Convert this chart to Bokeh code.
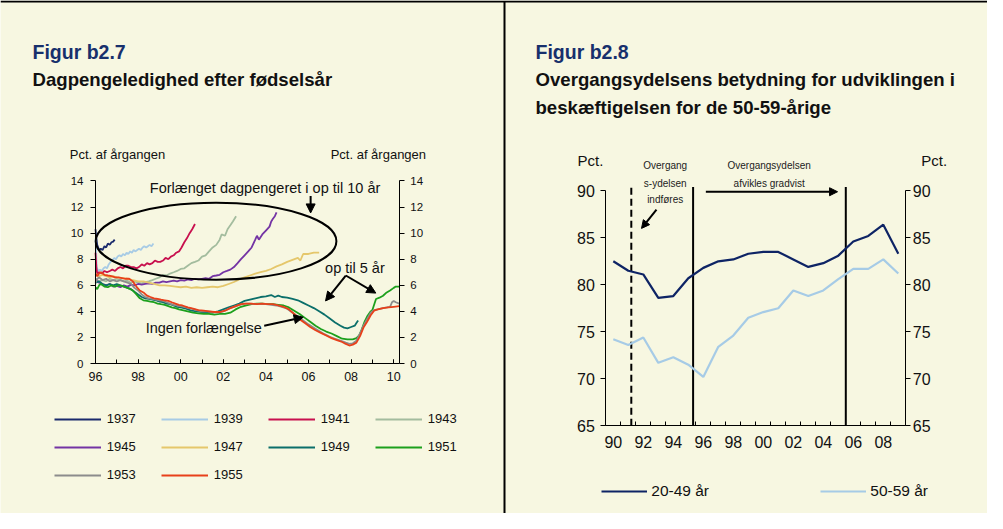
from bokeh.plotting import figure
from bokeh.models import (Range1d, LinearAxis, FixedTicker, Label, Arrow, NormalHead,
                          Legend, LegendItem)
from bokeh.embed import file_html
from bokeh.resources import INLINE

BG = "#F7F7E1"
FONT = "Liberation Sans"
NAVY = "#17306C"
TXT = "#111111"
W, H = 987, 513

# ---------------- Figure b2.7 data (cohort unemployment, pct of cohort) ----------------
cohorts = ["1937", "1939", "1941", "1943", "1945", "1947", "1949", "1951", "1953", "1955"]
cohort_colors = ["#1A2A6C", "#A7CBE5", "#C8104E", "#A3BC9E", "#7434A4",
                 "#E5C76B", "#0B6F6A", "#1CA01C", "#8C8C8C", "#E8401A"]

s1937 = [(1996.00, 10.3), (1996.03, 9.8), (1996.08, 9.1), (1996.17, 8.7), (1996.25, 8.8),
         (1996.33, 8.7), (1996.42, 9.0), (1996.50, 8.9), (1996.58, 9.2), (1996.67, 9.1),
         (1996.75, 9.3), (1996.83, 9.35), (1996.90, 9.5)]
s1939 = [(1996.00, 9.6), (1996.06, 7.4), (1996.12, 7.1), (1996.21, 7.2), (1996.29, 7.1),
         (1996.38, 7.3), (1996.46, 7.4), (1996.54, 7.3), (1996.62, 7.6), (1996.71, 7.8),
         (1996.79, 7.9), (1996.88, 8.1), (1996.96, 8.0), (1997.04, 8.2), (1997.13, 8.3),
         (1997.21, 8.2), (1997.29, 8.4), (1997.38, 8.3), (1997.46, 8.5), (1997.54, 8.4),
         (1997.63, 8.6), (1997.71, 8.5), (1997.79, 8.7), (1997.88, 8.6), (1997.96, 8.7),
         (1998.04, 8.8), (1998.13, 8.7), (1998.21, 8.9), (1998.29, 9.0), (1998.38, 8.9),
         (1998.46, 9.0), (1998.54, 9.1), (1998.63, 9.0), (1998.72, 9.2)]
s1941 = [(1996.00, 8.5), (1996.04, 7.4), (1996.08, 6.9), (1996.17, 7.0), (1996.29, 6.9),
         (1996.42, 7.1), (1996.54, 7.0), (1996.67, 7.1), (1996.79, 7.2), (1996.92, 7.1),
         (1997.04, 7.3), (1997.17, 7.4), (1997.29, 7.3), (1997.42, 7.5), (1997.54, 7.5),
         (1997.67, 7.4), (1997.79, 7.4), (1997.92, 7.3), (1998.04, 7.4), (1998.17, 7.6),
         (1998.29, 7.5), (1998.42, 7.7), (1998.54, 7.6), (1998.67, 7.7), (1998.79, 7.9),
         (1998.92, 7.8), (1999.04, 7.8), (1999.17, 7.9), (1999.29, 8.1), (1999.42, 8.0),
         (1999.54, 8.2), (1999.67, 8.3), (1999.79, 8.5), (1999.92, 8.6), (2000.04, 8.9),
         (2000.17, 9.3), (2000.29, 9.6), (2000.42, 10.0), (2000.54, 10.3), (2000.67, 10.7)]
s1943 = [(1996.00, 6.5), (1996.17, 6.3), (1996.33, 6.4), (1996.50, 6.3), (1996.67, 6.5),
         (1996.83, 6.4), (1997.00, 6.5), (1997.17, 6.4), (1997.33, 6.3), (1997.50, 6.35),
         (1997.67, 6.2), (1997.83, 6.3), (1998.00, 6.2), (1998.17, 6.15), (1998.33, 6.25),
         (1998.50, 6.3), (1998.67, 6.4), (1998.83, 6.5), (1999.00, 6.6), (1999.17, 6.8),
         (1999.33, 6.75), (1999.50, 6.9), (1999.67, 7.0), (1999.83, 7.1), (2000.00, 7.25),
         (2000.17, 7.3), (2000.33, 7.5), (2000.50, 7.7), (2000.67, 7.8), (2000.83, 7.9),
         (2001.00, 8.2), (2001.17, 8.3), (2001.33, 8.6), (2001.50, 8.9), (2001.67, 9.1),
         (2001.83, 9.5), (2001.92, 9.9), (2002.08, 9.8), (2002.20, 10.3), (2002.33, 10.6),
         (2002.45, 10.9), (2002.60, 11.3)]
s1945 = [(1996.00, 6.4), (1996.17, 6.2), (1996.33, 6.1), (1996.50, 6.0), (1996.67, 6.1),
         (1996.83, 5.9), (1997.00, 5.95), (1997.17, 5.85), (1997.33, 6.0), (1997.50, 5.9),
         (1997.67, 6.05), (1997.83, 6.0), (1998.00, 6.1), (1998.17, 6.05), (1998.33, 6.1),
         (1998.50, 6.15), (1998.67, 6.1), (1998.83, 6.2), (1999.00, 6.2), (1999.17, 6.3),
         (1999.33, 6.25), (1999.50, 6.3), (1999.67, 6.35), (1999.83, 6.3), (2000.00, 6.4),
         (2000.17, 6.35), (2000.33, 6.45), (2000.50, 6.4), (2000.67, 6.5), (2000.83, 6.45),
         (2001.00, 6.5), (2001.17, 6.55), (2001.33, 6.5), (2001.50, 6.7), (2001.67, 6.75),
         (2001.83, 6.8), (2002.00, 7.0), (2002.17, 7.1), (2002.33, 7.2), (2002.50, 7.4),
         (2002.67, 7.7), (2002.83, 8.0), (2003.00, 8.3), (2003.17, 8.6), (2003.33, 8.9),
         (2003.50, 9.5), (2003.58, 9.8), (2003.67, 9.5), (2003.83, 9.9), (2004.00, 10.2),
         (2004.17, 10.5), (2004.25, 10.9), (2004.33, 11.1), (2004.42, 11.3), (2004.50, 11.6)]
s1947 = [(1996.00, 6.9), (1996.17, 6.7), (1996.33, 6.8), (1996.50, 6.7), (1996.67, 6.6),
         (1996.83, 6.7), (1997.00, 6.6), (1997.25, 6.55), (1997.50, 6.5), (1997.75, 6.4),
         (1998.00, 6.3), (1998.25, 6.3), (1998.50, 6.2), (1998.75, 6.1), (1999.00, 6.0),
         (1999.25, 6.0), (1999.50, 5.95), (1999.75, 5.9), (2000.00, 5.85), (2000.25, 5.9),
         (2000.50, 5.8), (2000.75, 5.85), (2001.00, 5.8), (2001.25, 5.85), (2001.50, 5.9),
         (2001.75, 5.85), (2002.00, 5.95), (2002.25, 6.1), (2002.50, 6.25), (2002.75, 6.45),
         (2003.00, 6.6), (2003.25, 6.75), (2003.50, 6.9), (2003.75, 7.0), (2004.00, 7.1),
         (2004.25, 7.25), (2004.50, 7.45), (2004.75, 7.6), (2005.00, 7.8), (2005.25, 7.95),
         (2005.50, 8.1), (2005.62, 7.9), (2005.75, 8.4), (2006.00, 8.4), (2006.25, 8.5),
         (2006.50, 8.5)]
s1949 = [(1996.00, 6.2), (1996.17, 6.3), (1996.33, 6.1), (1996.50, 6.0), (1996.67, 6.1),
         (1996.83, 6.0), (1997.00, 6.1), (1997.17, 6.0), (1997.33, 5.9), (1997.50, 5.8),
         (1997.67, 5.7), (1997.83, 5.5), (1998.00, 5.3), (1998.17, 5.1), (1998.33, 5.0),
         (1998.50, 4.95), (1998.67, 4.9), (1998.83, 4.85), (1999.00, 4.75), (1999.17, 4.7),
         (1999.33, 4.6), (1999.50, 4.55), (1999.67, 4.45), (1999.83, 4.35), (2000.00, 4.3),
         (2000.25, 4.2), (2000.50, 4.05), (2000.75, 4.0), (2001.00, 3.95), (2001.25, 3.95),
         (2001.50, 3.9), (2001.75, 4.0), (2002.00, 4.15), (2002.25, 4.3), (2002.50, 4.45),
         (2002.75, 4.6), (2003.00, 4.8), (2003.25, 4.9), (2003.50, 5.0), (2003.75, 5.1),
         (2004.00, 5.15), (2004.25, 5.25), (2004.42, 5.1), (2004.58, 5.2), (2004.75, 5.1),
         (2005.00, 5.05), (2005.25, 4.95), (2005.50, 4.85), (2005.75, 4.65), (2006.00, 4.45),
         (2006.25, 4.25), (2006.50, 4.0), (2006.75, 3.75), (2007.00, 3.45), (2007.25, 3.15),
         (2007.50, 2.9), (2007.67, 2.75), (2007.83, 2.7), (2008.00, 2.8), (2008.17, 2.9),
         (2008.25, 3.1), (2008.33, 3.3)]
s1951 = [(1996.00, 5.85), (1996.08, 5.7), (1996.17, 6.0), (1996.25, 6.1), (1996.42, 5.9),
         (1996.58, 5.85), (1996.75, 6.0), (1996.92, 5.9), (1997.08, 6.0), (1997.25, 5.95),
         (1997.42, 5.85), (1997.58, 5.75), (1997.75, 5.6), (1997.92, 5.3), (1998.08, 5.0),
         (1998.25, 4.85), (1998.42, 4.8), (1998.58, 4.75), (1998.75, 4.7), (1998.92, 4.6),
         (1999.08, 4.55), (1999.25, 4.5), (1999.42, 4.4), (1999.58, 4.3), (1999.75, 4.25),
         (1999.92, 4.15), (2000.08, 4.1), (2000.33, 4.0), (2000.58, 3.9), (2000.83, 3.85),
         (2001.08, 3.8), (2001.33, 3.8), (2001.58, 3.75), (2001.83, 3.8), (2002.08, 3.8),
         (2002.33, 3.9), (2002.58, 4.15), (2002.83, 4.35), (2003.08, 4.45), (2003.33, 4.55),
         (2003.58, 4.6), (2003.83, 4.6), (2004.08, 4.55), (2004.33, 4.55), (2004.58, 4.5),
         (2004.83, 4.45), (2005.08, 4.3), (2005.33, 4.05), (2005.58, 3.8), (2005.83, 3.5),
         (2006.08, 3.2), (2006.33, 2.9), (2006.58, 2.65), (2006.83, 2.45), (2007.08, 2.3),
         (2007.33, 2.1), (2007.58, 1.9), (2007.83, 1.85), (2008.08, 1.85), (2008.25, 1.95),
         (2008.38, 2.15), (2008.50, 2.6), (2008.63, 3.2), (2008.75, 3.6), (2008.92, 4.0),
         (2009.00, 4.1), (2009.10, 4.6), (2009.17, 4.95), (2009.33, 5.05), (2009.50, 5.2),
         (2009.67, 5.45), (2009.83, 5.6), (2010.00, 5.8), (2010.10, 5.9), (2010.26, 5.9)]
s1953 = [(1996.00, 6.2), (1996.08, 6.5), (1996.17, 6.6), (1996.33, 6.4), (1996.50, 6.5),
         (1996.67, 6.3), (1996.83, 6.4), (1997.00, 6.3), (1997.17, 6.4), (1997.33, 6.3),
         (1997.50, 6.2), (1997.67, 6.1), (1997.83, 5.8), (1998.00, 5.6), (1998.17, 5.3),
         (1998.33, 5.1), (1998.50, 5.0), (1998.67, 4.95), (1998.83, 4.9), (1999.00, 4.85),
         (1999.17, 4.8), (1999.33, 4.7), (1999.50, 4.6), (1999.67, 4.5), (1999.83, 4.45),
         (2000.00, 4.4), (2000.25, 4.3), (2000.50, 4.2), (2000.75, 4.1), (2001.00, 4.0),
         (2001.25, 4.0), (2001.50, 3.95), (2001.75, 3.9), (2002.00, 4.0), (2002.25, 4.2),
         (2002.50, 4.35), (2002.75, 4.5), (2003.00, 4.6), (2003.25, 4.6), (2003.50, 4.55),
         (2003.75, 4.6), (2004.00, 4.55), (2004.25, 4.5), (2004.50, 4.45), (2004.75, 4.35),
         (2005.00, 4.2), (2005.25, 3.9), (2005.50, 3.6), (2005.75, 3.3), (2006.00, 3.0),
         (2006.25, 2.75), (2006.50, 2.5), (2006.75, 2.25), (2007.00, 2.05), (2007.25, 1.9),
         (2007.50, 1.75), (2007.75, 1.6), (2007.92, 1.5), (2008.08, 1.55), (2008.25, 1.75),
         (2008.42, 2.3), (2008.58, 2.9), (2008.75, 3.4), (2008.92, 3.9), (2009.08, 4.1),
         (2009.25, 4.15), (2009.50, 4.25), (2009.67, 4.3), (2009.83, 4.35), (2009.92, 4.7),
         (2010.00, 4.8), (2010.10, 4.7), (2010.26, 4.6)]
s1955 = [(1996.00, 6.9), (1996.08, 6.7), (1996.17, 6.9), (1996.25, 7.0), (1996.42, 6.8),
         (1996.58, 6.75), (1996.75, 6.7), (1996.92, 6.6), (1997.08, 6.6), (1997.25, 6.55),
         (1997.42, 6.5), (1997.58, 6.5), (1997.75, 6.3), (1997.92, 5.9), (1998.08, 5.6),
         (1998.25, 5.45), (1998.42, 5.2), (1998.58, 5.1), (1998.75, 5.0), (1998.92, 4.95),
         (1999.08, 4.9), (1999.25, 4.85), (1999.42, 4.8), (1999.58, 4.7), (1999.75, 4.6),
         (1999.92, 4.5), (2000.08, 4.45), (2000.33, 4.3), (2000.58, 4.2), (2000.83, 4.1),
         (2001.08, 4.05), (2001.33, 4.0), (2001.58, 3.95), (2001.83, 3.95), (2002.08, 4.05),
         (2002.33, 4.25), (2002.58, 4.4), (2002.83, 4.55), (2003.08, 4.6), (2003.33, 4.6),
         (2003.58, 4.55), (2003.83, 4.6), (2004.08, 4.55), (2004.33, 4.55), (2004.58, 4.45),
         (2004.83, 4.35), (2005.08, 4.15), (2005.33, 3.8), (2005.58, 3.4), (2005.83, 3.1),
         (2006.08, 2.8), (2006.33, 2.55), (2006.58, 2.35), (2006.83, 2.15), (2007.08, 1.95),
         (2007.33, 1.8), (2007.58, 1.65), (2007.75, 1.5), (2007.92, 1.38), (2008.08, 1.45),
         (2008.25, 1.6), (2008.42, 2.1), (2008.58, 2.75), (2008.75, 3.2), (2008.92, 3.7),
         (2009.08, 4.05), (2009.25, 4.15), (2009.50, 4.25), (2009.75, 4.3), (2010.00, 4.35),
         (2010.26, 4.4)]
cohort_series = [s1937, s1939, s1941, s1943, s1945, s1947, s1949, s1951, s1953, s1955]

left_x_ticks = [1996, 1998, 2000, 2002, 2004, 2006, 2008, 2010]
left_x_labels = ["96", "98", "00", "02", "04", "06", "08", "10"]
left_y_ticks = [0, 2, 4, 6, 8, 10, 12, 14]

# ---------------- Figure b2.8 data (employment rate, pct) ----------------
years = [1990, 1991, 1992, 1993, 1994, 1995, 1996, 1997, 1998, 1999,
         2000, 2001, 2002, 2003, 2004, 2005, 2006, 2007, 2008, 2009]
emp_2049 = [82.5, 81.5, 81.1, 78.6, 78.8, 80.7, 81.8, 82.5, 82.7, 83.3,
            83.5, 83.5, 82.7, 81.9, 82.3, 83.1, 84.6, 85.2, 86.4, 83.3]
emp_5059 = [74.2, 73.6, 74.4, 71.7, 72.3, 71.5, 70.2, 73.4, 74.6, 76.5,
            77.1, 77.5, 79.4, 78.8, 79.4, 80.6, 81.7, 81.7, 82.7, 81.2]
right_x_ticks = [1990, 1992, 1994, 1996, 1998, 2000, 2002, 2004, 2006, 2008]
right_x_labels = ["90", "92", "94", "96", "98", "00", "02", "04", "06", "08"]
right_y_ticks = [65, 70, 75, 80, 85, 90]
event_dashed = [1991.2]
event_solid = [1995.32, 2005.5]


# ---- ranges: anchor a value at a canvas pixel with a given pixel scale ----
def xrange_at(v, px, ppu):
    return Range1d(v - px / ppu, v + (W - px) / ppu)


def yrange_at(v, py, ppu):  # py measured from top of canvas
    return Range1d(v - (H - py) / ppu, v + py / ppu)


LX0, LX1 = 1996, 2010.26
RX0, RX1 = 1989.5, 2009.5

p = figure(width=W, height=H, min_border=0, x_range=Range1d(0, W), y_range=Range1d(0, H),
           x_axis_location=None, y_axis_location=None,
           output_backend="svg", toolbar_location=None,
           background_fill_color=BG, border_fill_color=BG, outline_line_color=None)
p.grid.visible = False
p.extra_x_ranges = {"xl": xrange_at(1996, 95, 21.3), "xr": xrange_at(1990, 612.8, 15.0)}
p.extra_y_ranges = {"yl": yrange_at(0, 363, 13.036), "yr": yrange_at(65, 425.3, 9.4)}

# frame lines (top rule and divider), in canvas pixel coordinates
p.segment(x0=[0, 504], y0=[H - 1, H - 1], x1=[W, 504], y1=[H - 1, 0], line_color="black", line_width=2)


def style_axis(ax, size):
    ax.axis_line_color = "black"
    ax.axis_line_width = 1
    ax.major_tick_line_color = "black"
    ax.minor_tick_line_color = "black"
    ax.major_label_text_font = FONT
    ax.major_label_text_font_size = size
    ax.major_label_text_color = TXT


def add_axes(xr, yr, x0, x1, y0, y1, yticks, xticks, xlabels, xminor, ysize, xsize,
             lstand, rstand, xstand, xmajor_in):
    for side, loc, stand in (("left", x0, lstand), ("right", x1, rstand)):
        ax = LinearAxis(x_range_name=xr, y_range_name=yr, fixed_location=loc, bounds=(y0, y1),
                        ticker=FixedTicker(ticks=yticks, minor_ticks=[]))
        style_axis(ax, ysize)
        ax.major_tick_out = 5
        ax.major_tick_in = 0
        ax.major_label_standoff = stand
        p.add_layout(ax, side)
    ax = LinearAxis(x_range_name=xr, y_range_name=yr, fixed_location=y0, bounds=(x0, x1),
                    ticker=FixedTicker(ticks=xticks, minor_ticks=xminor))
    ax.major_label_overrides = {t: l for t, l in zip(xticks, xlabels)}
    style_axis(ax, xsize)
    ax.major_tick_in = xmajor_in
    ax.major_tick_out = 0
    ax.minor_tick_in = 4
    ax.minor_tick_out = 0
    ax.major_label_standoff = xstand
    p.add_layout(ax, "below")


add_axes("xl", "yl", LX0, LX1, 0, 14, left_y_ticks, left_x_ticks, left_x_labels,
         list(range(1996, 2011)), "11.5px", "12.5px", 7, 6, 8, 4)
add_axes("xr", "yr", RX0, RX1, 65, 90, right_y_ticks, right_x_ticks, right_x_labels,
         [1989.5 + i for i in range(21)], "16px", "16px", 6, 2, 10, 0)

# ================= Figure b2.7 =================
L = dict(x_range_name="xl", y_range_name="yl")
items = []
for name, col, s in zip(cohorts, cohort_colors, cohort_series):
    xs = [a for a, b in s]
    ys = [b for a, b in s]
    r = p.line(xs, ys, line_color=col, line_width=1.8, **L)
    items.append(LegendItem(label=name, renderers=[r]))

p.ellipse(x=[2001.66], y=[9.38], width=11.3, height=5.9,
          fill_color=None, line_color="black", line_width=2, **L)


def arrow(x0, y0, x1, y1, size, **rn):
    p.add_layout(Arrow(end=NormalHead(size=size, fill_color="black", line_color="black"),
                       x_start=x0, y_start=y0, x_end=x1, y_end=y1, line_width=2, **rn))


arrow(2006.1, 12.85, 2006.1, 11.55, 9, **L)
arrow(2007.75, 6.75, 2006.8, 4.8, 9, **L)
arrow(2007.75, 6.75, 2009.16, 5.4, 9, **L)
arrow(2003.92, 2.9, 2005.75, 3.55, 9, **L)


def lab(x, y, text, size, rn, align="center", color=TXT):
    p.add_layout(Label(x=x, y=y, text=text, text_font=FONT, text_font_size=size,
                       text_align=align, text_baseline="middle", text_color=color, **rn))


lab(2003.96, 13.46, "Forlænget dagpengeret i op til 10 år", "14.5px", L)
lab(2008.18, 7.31, "op til 5 år", "14.5px", L)
lab(2001.08, 2.72, "Ingen forlængelse", "14.5px", L)
lab(1997.03, 16.0, "Pct. af årgangen", "13px", L)
lab(2009.28, 16.0, "Pct. af årgangen", "13px", L)


def title(x, ybase, text, size, color):
    p.add_layout(Label(x=x, y=H - ybase, x_units="screen", y_units="screen", text=text,
                       text_font=FONT, text_font_size=size, text_font_style="bold",
                       text_color=color, text_baseline="alphabetic"))


title(32, 51.3, "Figur b2.7", "19.5px", NAVY)
title(32, 79.3, "Dagpengeledighed efter fødselsår", "18.6px", TXT)

leg1 = Legend(items=items, orientation="horizontal", ncols=4, location=(53.7, 30.3),
              glyph_width=47, glyph_height=16, label_height=16, label_width=42,
              label_standoff=6, spacing=12, padding=0, margin=0,
              border_line_color=None, background_fill_alpha=0,
              label_text_font=FONT, label_text_font_size="13px", label_text_color=TXT)
p.add_layout(leg1)

# ================= Figure b2.8 =================
R = dict(x_range_name="xr", y_range_name="yr")
p.segment(x0=event_dashed, y0=[65] * len(event_dashed), x1=event_dashed, y1=[90.5] * len(event_dashed),
          line_color="black", line_width=2, line_dash="7 4", **R)
p.segment(x0=event_solid, y0=[65] * len(event_solid), x1=event_solid, y1=[90.4] * len(event_solid),
          line_color="black", line_width=2, **R)

r1 = p.line(years, emp_2049, line_color="#0E2465", line_width=2.2, **R)
r2 = p.line(years, emp_5059, line_color="#A6CBE6", line_width=2.2, **R)

arrow(1996.17, 89.9, 2004.95, 89.9, 8, **R)
arrow(1992.88, 88.0, 1991.88, 86.0, 8, **R)

lab(1993.46, 92.66, "Overgang", "10px", R, color="#222222")
lab(1993.46, 90.81, "s-ydelsen", "10px", R, color="#222222")
lab(1993.46, 89.04, "indføres", "10px", R, color="#222222")
lab(2000.39, 92.66, "Overgangsydelsen", "10px", R, color="#222222")
lab(2000.39, 90.81, "afvikles gradvist", "10px", R, color="#222222")
lab(1988.48, 93.19, "Pct.", "15px", R)
lab(2011.39, 93.19, "Pct.", "15px", R)

title(535, 51.3, "Figur b2.8", "19.5px", NAVY)
title(535, 79.3, "Overgangsydelsens betydning for udviklingen i", "18.6px", TXT)
title(535, 107, "beskæftigelsen for de 50-59-årige", "18.6px", TXT)

leg2 = Legend(items=[LegendItem(label="20-49 år", renderers=[r1]),
                     LegendItem(label="50-59 år", renderers=[r2])],
              orientation="horizontal", location=(601.3, 13),
              glyph_width=46, glyph_height=16, label_height=16, label_width=169,
              label_standoff=4, spacing=0, padding=0, margin=0,
              border_line_color=None, background_fill_alpha=0,
              label_text_font=FONT, label_text_font_size="15.5px", label_text_color=TXT)
p.add_layout(leg2)

open("out.html", "w").write(file_html(p, INLINE))
